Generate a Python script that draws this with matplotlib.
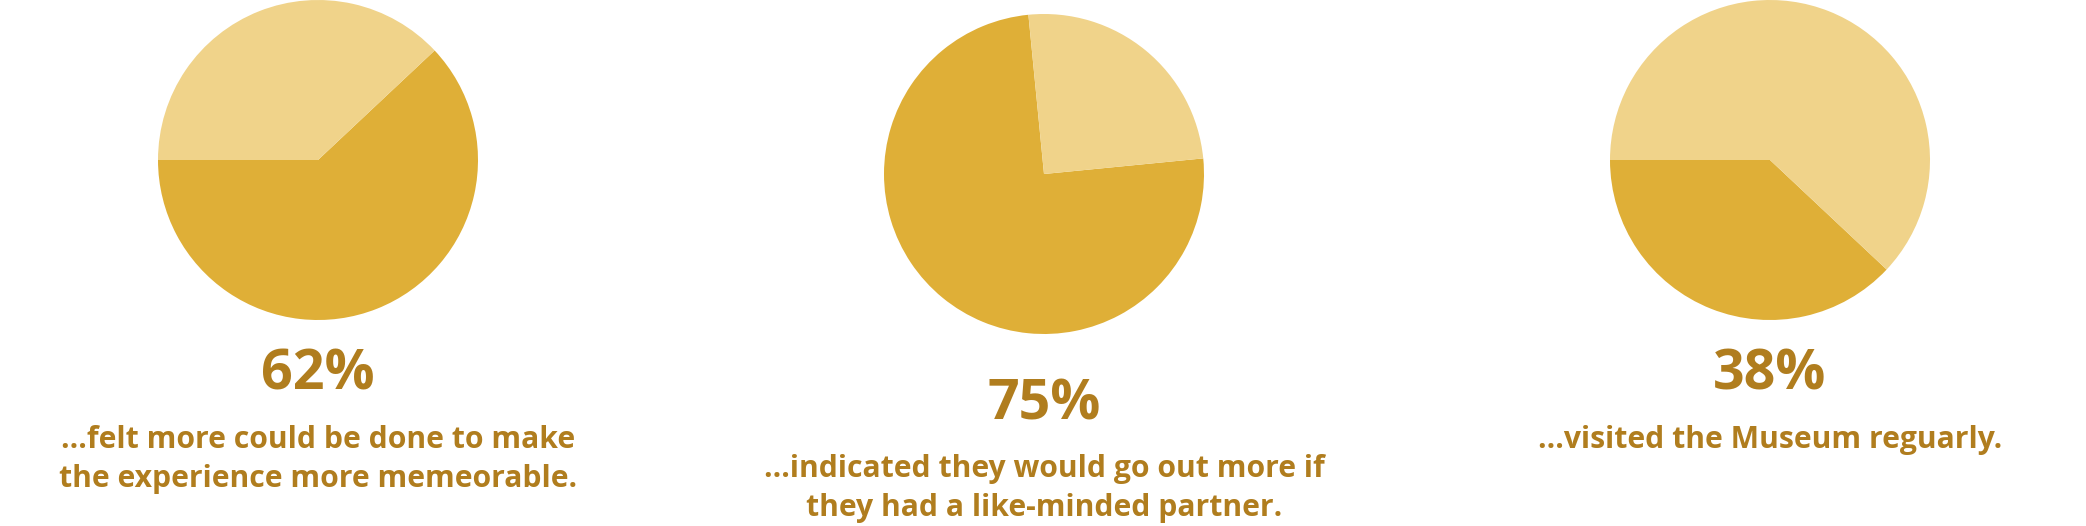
import matplotlib
matplotlib.use("Agg")
import matplotlib.pyplot as plt

# ---- data ----
percent_values = [62, 75, 38]
percent_labels = ["62%", "75%", "38%"]
captions = [
    ["...felt more could be done to make", "the experience more memeorable."],
    ["...indicated they would go out more if", "they had a like-minded partner."],
    ["...visited the Museum reguarly."],
]

# ---- style ----
DARK = "#DFAF37"
LIGHT = "#F0D38A"
TEXT = "#B07D1E"
FONT = "Open Sans"

W, H = 2086, 526
fig = plt.figure(figsize=(W / 100, H / 100), dpi=100)
fig.patch.set_facecolor("white")

# layout in pixels (center x, center y from top, radius, start angle)
pies = [(318, 160, 160, 180), (1044, 174, 160, 95.6), (1770, 160, 160, 180)]
pct_baseline = [390, 419, 390]
cap_baseline = [448, 477, 448]
line_gap = 39

for i, v in enumerate(percent_values):
    cx, cy, r, start = pies[i]
    ax = fig.add_axes([(cx - r) / W, (H - cy - r) / H, 2 * r / W, 2 * r / H])
    ax.pie([v, 100 - v], colors=[DARK, LIGHT], startangle=start,
           counterclock=True, radius=1.0,
           wedgeprops=dict(linewidth=0))
    ax.set_xlim(-1, 1)
    ax.set_ylim(-1, 1)
    ax.set_aspect("equal")
    ax.axis("off")

    fig.text(cx / W, (H - pct_baseline[i]) / H, percent_labels[i],
             ha="center", va="baseline", fontsize=40, fontweight="bold",
             family=FONT, color=TEXT)
    for j, line in enumerate(captions[i]):
        fig.text(cx / W, (H - cap_baseline[i] - j * line_gap) / H, line,
                 ha="center", va="baseline", fontsize=21.7, fontweight="bold",
                 family=FONT, color=TEXT)

fig.savefig("out.png", dpi=100, facecolor="white")
